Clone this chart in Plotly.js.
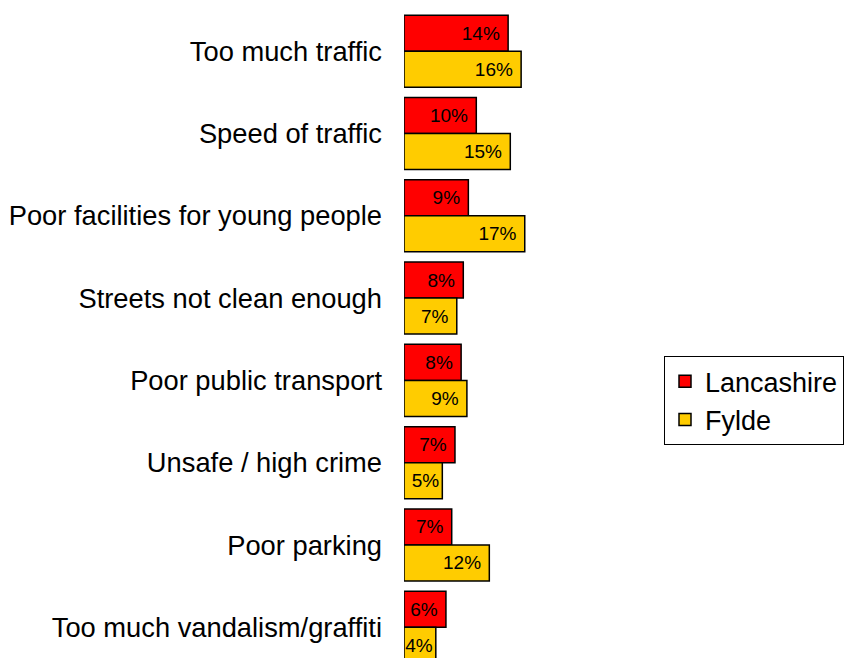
<!DOCTYPE html>
<html>
<head>
<meta charset="utf-8">
<script src="https://cdn.plot.ly/plotly-3.0.1.min.js"></script>
<style>html,body{margin:0;padding:0;background:#fff;}#chart{width:847px;height:658px;}</style>
</head>
<body>
<div id="chart"></div>
<script>
var categories = ["Too much traffic","Speed of traffic","Poor facilities for young people","Streets not clean enough","Poor public transport","Unsafe / high crime","Poor parking","Too much vandalism/graffiti"];
var lancashire = [14.4, 10.0, 8.9, 8.2, 7.9, 7.05, 6.6, 5.8];
var fylde = [16.2, 14.7, 16.7, 7.3, 8.7, 5.3, 11.8, 4.4];
var seriesNames = ["Lancashire", "Fylde"];
var seriesColors = ["#FF0000", "#FFCC00"];

var FONT = "Liberation Sans, Arial, sans-serif";
function barTrace(name, vals, color) {
  return {
    type: "bar", orientation: "h", name: name,
    y: categories, x: vals,
    marker: {color: color, line: {color: "#000", width: 1.5}},
    texttemplate: vals.map(function (v) { return v < 5.5 ? "%{x:.0f}%" : "%{x:.0f}%\u00A0"; }),
    textposition: "inside",
    insidetextanchor: "end",
    constraintext: "none",
    textangle: 0,
    insidetextfont: {family: FONT, size: 19, color: "#000"},
    hoverinfo: "skip"
  };
}
var data = [
  barTrace(seriesNames[0], lancashire, seriesColors[0]),
  barTrace(seriesNames[1], fylde, seriesColors[1])
];
var layout = {
  width: 847, height: 658,
  margin: {l: 404, r: 207, t: 9.83, b: 0, autoexpand: false},
  paper_bgcolor: "#fff", plot_bgcolor: "#fff",
  barmode: "group", bargap: 0.125, bargroupgap: 0,
  font: {family: FONT, color: "#000"},
  xaxis: {range: [0, 32.64], visible: false, fixedrange: true},
  yaxis: {type: "category", range: [7.373, -0.5], showgrid: false, zeroline: false,
          showline: false, ticks: "", ticklabelstandoff: 21,
          tickfont: {family: FONT, size: 27.3, color: "#000"}},
  showlegend: true,
  legend: {x: 1.1017, xanchor: "left", y: 0.4657, yanchor: "top",
           bordercolor: "#000", borderwidth: 1, bgcolor: "#fff",
           font: {family: FONT, size: 27, color: "#000"}, traceorder: "normal"}
};
Plotly.newPlot("chart", data, layout, {staticPlot: true, displayModeBar: false});
</script>
</body>
</html>
